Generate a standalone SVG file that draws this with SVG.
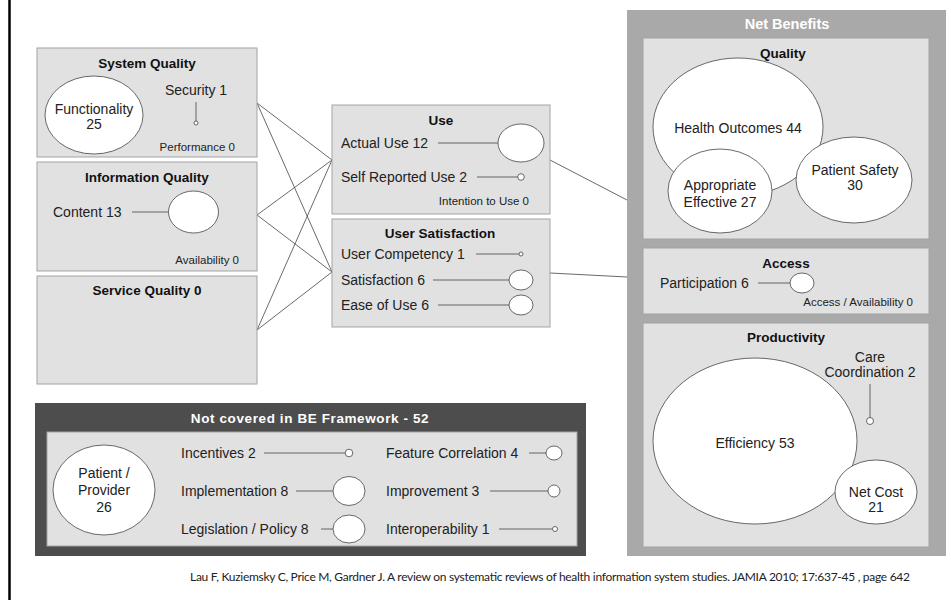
<svg xmlns="http://www.w3.org/2000/svg" width="951" height="600" viewBox="0 0 951 600">
  <style>
    .box { fill: #e1e1e1; stroke: #a3a3a3; stroke-width: 1; }
    .t { font-family: "Liberation Sans", Arial, sans-serif; font-size: 14px; fill: #222; }
    .mid { text-anchor: middle; }
    .end { text-anchor: end; }
    .sm { font-size: 11.5px; }
    .h { font-family: "Liberation Sans", Arial, sans-serif; font-size: 13.5px; font-weight: bold; fill: #111; text-anchor: middle; }
    .hw { fill: #fff; }
    .bub { fill: #fff; stroke: #444; stroke-width: 0.8; }
    .ln { stroke: #444; stroke-width: 0.8; fill: none; }
    .cap { font-family: Lato, "Liberation Sans", sans-serif; font-size: 12px; fill: #222; }
  </style>

  <rect width="951" height="600" fill="#fff"/>
  <line x1="9.5" y1="0" x2="9.5" y2="600" stroke="#000" stroke-width="2.5"/>

  <!-- links between the model dimensions -->
  <g id="connectors" class="ln">
    <line x1="257" y1="103" x2="332" y2="160"/>
    <line x1="257" y1="103" x2="332" y2="272"/>
    <line x1="257" y1="215" x2="332" y2="160"/>
    <line x1="257" y1="215" x2="332" y2="272"/>
    <line x1="257" y1="330" x2="332" y2="160"/>
    <line x1="257" y1="330" x2="332" y2="272"/>
    <line x1="550" y1="160" x2="627" y2="200"/>
    <line x1="550" y1="273" x2="627" y2="277"/>
  </g>

  <g id="system-quality">
    <rect class="box" x="37" y="48" width="220" height="109"/>
    <text class="h" x="147" y="68">System Quality</text>
    <ellipse class="bub" cx="94" cy="115" rx="49" ry="39"/>
    <text class="t mid" x="94" y="114">Functionality</text>
    <text class="t mid" x="94" y="129">25</text>
    <text class="t mid" x="196" y="95">Security 1</text>
    <line class="ln" x1="196" y1="102" x2="196" y2="121"/>
    <circle class="bub" cx="196" cy="123" r="2"/>
    <text class="t sm end" x="235" y="151">Performance 0</text>
  </g>

  <g id="information-quality">
    <rect class="box" x="37" y="162" width="220" height="109"/>
    <text class="h" x="147" y="182">Information Quality</text>
    <text class="t" x="53" y="217">Content 13</text>
    <line class="ln" x1="132" y1="212" x2="168" y2="212"/>
    <ellipse class="bub" cx="193.5" cy="212" rx="25" ry="21"/>
    <text class="t sm end" x="239" y="264">Availability 0</text>
  </g>

  <g id="service-quality">
    <rect class="box" x="37" y="276" width="220" height="108"/>
    <text class="h" x="147" y="295">Service Quality 0</text>
  </g>

  <g id="use">
    <rect class="box" x="332" y="105" width="218" height="109"/>
    <text class="h" x="441" y="125">Use</text>
    <text class="t" x="341" y="148">Actual Use 12</text>
    <line class="ln" x1="438" y1="143" x2="498" y2="143"/>
    <ellipse class="bub" cx="521" cy="143" rx="23" ry="19"/>
    <text class="t" x="341" y="182">Self Reported Use 2</text>
    <line class="ln" x1="477" y1="177" x2="518" y2="177"/>
    <circle class="bub" cx="521" cy="177" r="3.3"/>
    <text class="t sm end" x="529" y="205">Intention to Use 0</text>
  </g>

  <g id="user-satisfaction">
    <rect class="box" x="332" y="219" width="218" height="108"/>
    <text class="h" x="440" y="238">User Satisfaction</text>
    <text class="t" x="341" y="259">User Competency 1</text>
    <line class="ln" x1="476" y1="254" x2="519" y2="254"/>
    <circle class="bub" cx="521" cy="254" r="2"/>
    <text class="t" x="341" y="285">Satisfaction 6</text>
    <line class="ln" x1="433" y1="280" x2="509" y2="280"/>
    <ellipse class="bub" cx="521" cy="280" rx="12" ry="10"/>
    <text class="t" x="341" y="310">Ease of Use 6</text>
    <line class="ln" x1="438" y1="305" x2="509" y2="305"/>
    <ellipse class="bub" cx="521" cy="305" rx="12" ry="10"/>
  </g>

  <g id="net-benefits">
    <rect x="627" y="10" width="319" height="546" fill="#a9a9a9"/>
    <text class="h hw" x="787" y="29" style="font-size:14.5px">Net Benefits</text>
  </g>

  <g id="quality">
    <rect class="box" x="643" y="38" width="286" height="201"/>
    <text class="h" x="783" y="58">Quality</text>
    <ellipse class="bub" cx="738" cy="127" rx="85" ry="69"/>
    <text class="t mid" x="738" y="133">Health Outcomes 44</text>
    <ellipse class="bub" cx="854" cy="180" rx="58" ry="43"/>
    <text class="t mid" x="855" y="175">Patient Safety</text>
    <text class="t mid" x="855" y="190">30</text>
    <ellipse class="bub" cx="720" cy="191" rx="52" ry="42"/>
    <text class="t mid" x="720" y="190">Appropriate</text>
    <text class="t mid" x="720" y="207">Effective 27</text>
  </g>

  <g id="access">
    <rect class="box" x="643" y="248" width="286" height="66"/>
    <text class="h" x="786" y="268">Access</text>
    <text class="t" x="660" y="288">Participation 6</text>
    <line class="ln" x1="758" y1="283" x2="791" y2="283"/>
    <ellipse class="bub" cx="802" cy="283" rx="12" ry="10"/>
    <text class="t sm end" x="913" y="306">Access / Availability 0</text>
  </g>

  <g id="productivity">
    <rect class="box" x="643" y="323" width="286" height="224"/>
    <text class="h" x="786" y="342">Productivity</text>
    <text class="t mid" x="870" y="362">Care</text>
    <text class="t mid" x="870" y="377">Coordination 2</text>
    <line class="ln" x1="870" y1="384" x2="870" y2="418"/>
    <circle class="bub" cx="870" cy="421" r="3.5"/>
    <ellipse class="bub" cx="755" cy="441" rx="102" ry="83"/>
    <text class="t mid" x="755" y="448">Efficiency 53</text>
    <ellipse class="bub" cx="876" cy="492" rx="41" ry="32"/>
    <text class="t mid" x="876" y="497">Net Cost</text>
    <text class="t mid" x="876" y="512">21</text>
  </g>

  <g id="not-covered">
    <rect x="35" y="403" width="551" height="153" fill="#4d4d4d"/>
    <text class="h hw" x="310" y="423" style="letter-spacing:0.6px">Not covered in BE Framework - 52</text>
    <rect class="box" x="47" y="432" width="530" height="114"/>
    <ellipse class="bub" cx="104" cy="490" rx="51" ry="45"/>
    <text class="t mid" x="104" y="478">Patient /</text>
    <text class="t mid" x="104" y="495">Provider</text>
    <text class="t mid" x="104" y="512">26</text>

    <text class="t" x="181" y="458">Incentives 2</text>
    <line class="ln" x1="264" y1="453" x2="345" y2="453"/>
    <circle class="bub" cx="349" cy="453" r="3.8"/>

    <text class="t" x="181" y="496">Implementation 8</text>
    <line class="ln" x1="296" y1="491" x2="333" y2="491"/>
    <ellipse class="bub" cx="349" cy="491" rx="16" ry="14.5"/>

    <text class="t" x="181" y="534">Legislation / Policy 8</text>
    <line class="ln" x1="321" y1="529" x2="333" y2="529"/>
    <ellipse class="bub" cx="349" cy="529" rx="16" ry="14"/>

    <text class="t" x="386" y="458">Feature Correlation 4</text>
    <line class="ln" x1="529" y1="453" x2="546" y2="453"/>
    <ellipse class="bub" cx="554" cy="453" rx="8" ry="7"/>

    <text class="t" x="386" y="496">Improvement 3</text>
    <line class="ln" x1="490" y1="491" x2="548" y2="491"/>
    <circle class="bub" cx="554" cy="491" r="6"/>

    <text class="t" x="386" y="534">Interoperability 1</text>
    <line class="ln" x1="499" y1="529" x2="552" y2="529"/>
    <circle class="bub" cx="555" cy="529" r="2.5"/>
  </g>

  <text class="cap" x="190" y="581" textLength="720" lengthAdjust="spacing">Lau F, Kuziemsky C, Price M, Gardner J. A review on systematic reviews of health information system studies. JAMIA 2010; 17:637-45 , page 642</text>
</svg>
